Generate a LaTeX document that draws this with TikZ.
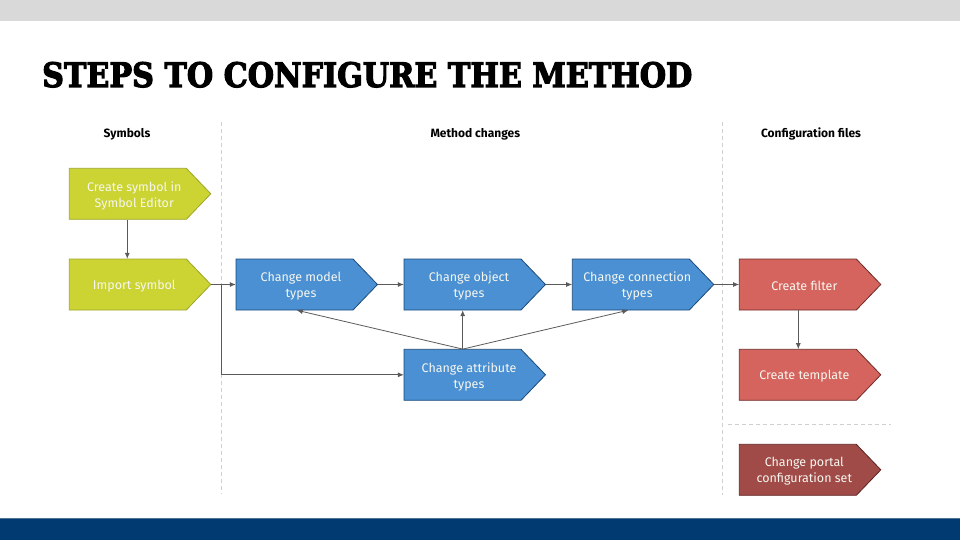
\documentclass[tikz,border=0pt]{standalone}
\usepackage{fontspec}
\setmainfont{Fira Sans}
\newfontfamily\titlefont{DejaVu Serif}[FakeBold=3.5]
\usetikzlibrary{arrows.meta,calc}
\definecolor{topband}{HTML}{D9D9D9}
\definecolor{botband}{HTML}{003A70}
\definecolor{botline}{HTML}{4F7297}
\definecolor{greenfill}{HTML}{CBD433}
\definecolor{greenline}{HTML}{9EA52B}
\definecolor{bluefill}{HTML}{4A90D2}
\definecolor{blueline}{HTML}{1C4A7A}
\definecolor{redfill}{HTML}{D4645D}
\definecolor{redline}{HTML}{6E2B28}
\definecolor{darkfill}{HTML}{A04B48}
\definecolor{darkline}{HTML}{5C2422}
\definecolor{connc}{HTML}{5A5A5A}
\definecolor{sepc}{HTML}{D0D0D0}
\definecolor{txtc}{HTML}{F7F7F0}
\tikzset{
  stepbox/.style={minimum width=130pt, minimum height=51pt, inner sep=0pt, align=center,
    text=txtc, font=\fontsize{12.5}{16}\selectfont},
  header/.style={anchor=base, font=\fontsize{12}{14}\selectfont\bfseries, text=black},
  conn/.style={draw=connc, line width=0.8pt, -{Latex[length=6pt,width=5pt]}},
  sep/.style={draw=sepc, line width=0.8pt, dash pattern=on 4pt off 3pt},
}
\newcommand\stepnode[5]{%
  \draw[draw=#4line, fill=#4fill, line width=0.8pt]
    (#2,#3-25.5) -- (#2+117,#3-25.5) -- (#2+141.5,#3) -- (#2+117,#3+25.5) -- (#2,#3+25.5) -- cycle;
  \node[stepbox] (#1) at (#2+65,#3+1.8) {#5};
  \coordinate (#1-tip) at (#2+141.5,#3);
}
\begin{document}
\begin{tikzpicture}[x=1pt,y=-1pt]
\useasboundingbox (0,0) rectangle (960,540);
% bands
\fill[topband] (0,0) rectangle (960,21);
\fill[botband] (0,518) rectangle (960,540);
\draw[botline, line width=1pt] (0,518) -- (960,518);
% title
\node[anchor=base west, inner sep=0pt] (title) at (42,87)
  {\resizebox{650pt}{25pt}{\titlefont\bfseries STEPS TO CONFIGURE THE METHOD}};
% separators
\draw[sep] (221.5,122) -- (221.5,494);
\draw[sep] (722.5,122) -- (722.5,495);
\draw[sep] (728,424) -- (891,424);
% headers
\node[header] (hsym) at (127,138) {Symbols};
\node[header] (hmeth) at (475.3,138) {Method changes};
\node[header] (hconf) at (811,138) {Configuration files};
% steps
\stepnode{csym}{69.3}{193.8}{green}{Create symbol in\\Symbol Editor}
\stepnode{imp}{69.3}{284.5}{green}{Import symbol}
\stepnode{model}{236}{284.5}{blue}{Change model\\types}
\stepnode{obj}{404}{284.5}{blue}{Change object\\types}
\stepnode{cnx}{572.3}{284.5}{blue}{Change connection\\types}
\stepnode{attr}{404}{374.8}{blue}{Change attribute\\types}
\stepnode{filt}{739.3}{284.5}{red}{Create filter}
\stepnode{tmpl}{739.3}{374.8}{red}{Create template}
\stepnode{portal}{739.3}{469.8}{dark}{Change portal\\configuration set}
% connectors
\draw[conn] ([xshift=-7pt,yshift=1.8pt]csym.south) -- ([xshift=-7pt,yshift=1.8pt]imp.north);
\draw[conn] (imp-tip) -- (model-tip -| model.west);
\coordinate (br) at (221.5,284.5);
\draw[conn] (br) |- (attr-tip -| attr.west);
\draw[conn] (model-tip) -- (obj-tip -| obj.west);
\draw[conn] (obj-tip) -- (cnx-tip -| cnx.west);
\draw[conn] (cnx-tip) -- (filt-tip -| filt.west);
\coordinate (attrtop) at ([xshift=-6.3pt,yshift=1.8pt]attr.north);
\draw[conn] (attrtop) -- ([xshift=-6.3pt,yshift=1.8pt]obj.south);
\draw[conn] (attrtop) -- ([xshift=-4.3pt,yshift=1.8pt]model.south);
\draw[conn] (attrtop) -- ([xshift=-9pt,yshift=1.8pt]cnx.south);
\draw[conn] ([xshift=-6pt,yshift=1.8pt]filt.south) -- ([xshift=-6pt,yshift=1.8pt]tmpl.north);
\end{tikzpicture}
\end{document}
